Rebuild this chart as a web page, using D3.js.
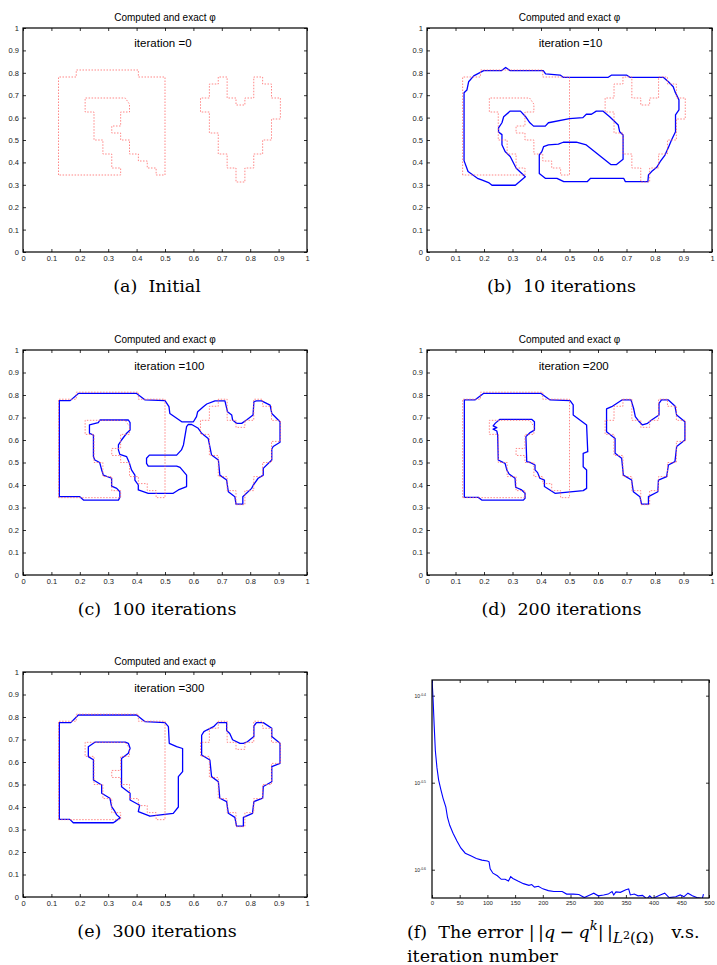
<!DOCTYPE html>
<html>
<head>
<meta charset="utf-8">
<script src="https://cdn.jsdelivr.net/npm/d3@7"></script>
<style>
  body { margin: 0; background: #fff; }
</style>
</head>
<body>
<svg id="fig" width="717" height="965"></svg>
<script>
// ---------- data ----------
// exact shape (red dotted), same in panels a-e
const exactLeft = [[0.125,0.34375],[0.125,0.78125],[0.1875,0.78125],[0.1875,0.8125],[0.40625,0.8125],[0.40625,0.78125],[0.5,0.78125],[0.5,0.34375],[0.46875,0.34375],[0.46875,0.375],[0.4375,0.375],[0.4375,0.40625],[0.40625,0.40625],[0.40625,0.4375],[0.375,0.4375],[0.375,0.5],[0.34375,0.5],[0.34375,0.53125],[0.3125,0.53125],[0.3125,0.5625],[0.34375,0.5625],[0.34375,0.625],[0.375,0.625],[0.375,0.66],[0.36,0.6875],[0.21875,0.6875],[0.21875,0.625],[0.25,0.625],[0.25,0.5],[0.28125,0.5],[0.28125,0.4375],[0.3125,0.4375],[0.3125,0.375],[0.34375,0.375],[0.34375,0.34375]];
const exactHeart = [[0.6875,0.78125],[0.6875,0.75],[0.65625,0.75],[0.65625,0.6875],[0.625,0.6875],[0.625,0.625],[0.65625,0.625],[0.65625,0.53125],[0.6875,0.53125],[0.6875,0.4375],[0.71875,0.4375],[0.71875,0.375],[0.75,0.375],[0.75,0.3125],[0.78125,0.3125],[0.78125,0.375],[0.8125,0.375],[0.8125,0.4375],[0.84375,0.4375],[0.84375,0.5],[0.875,0.5],[0.875,0.59375],[0.90625,0.59375],[0.90625,0.6875],[0.875,0.6875],[0.875,0.75],[0.84375,0.75],[0.84375,0.78125],[0.8125,0.78125],[0.8125,0.6875],[0.78125,0.6875],[0.78125,0.65625],[0.75,0.65625],[0.75,0.6875],[0.71875,0.6875],[0.71875,0.78125]];

// computed contours (blue)
const computed10 = [[0.199,0.810],[0.262,0.810],[0.276,0.824],[0.291,0.810],[0.408,0.810],[0.416,0.795],[0.467,0.790],[0.478,0.780],[0.636,0.780],[0.648,0.790],[0.700,0.790],[0.712,0.780],[0.829,0.780],[0.847,0.760],[0.864,0.738],[0.870,0.716],[0.884,0.679],[0.884,0.634],[0.872,0.612],[0.872,0.537],[0.858,0.500],[0.847,0.467],[0.835,0.433],[0.818,0.403],[0.806,0.378],[0.788,0.359],[0.777,0.344],[0.775,0.314],[0.696,0.314],[0.690,0.329],[0.574,0.329],[0.562,0.314],[0.480,0.314],[0.456,0.329],[0.415,0.329],[0.394,0.350],[0.394,0.433],[0.403,0.448],[0.409,0.470],[0.426,0.478],[0.461,0.482],[0.478,0.490],[0.524,0.490],[0.559,0.478],[0.646,0.390],[0.664,0.390],[0.688,0.414],[0.688,0.522],[0.676,0.537],[0.671,0.567],[0.641,0.604],[0.617,0.629],[0.594,0.629],[0.577,0.615],[0.559,0.615],[0.547,0.600],[0.500,0.595],[0.426,0.577],[0.415,0.562],[0.374,0.562],[0.361,0.577],[0.346,0.604],[0.328,0.629],[0.292,0.629],[0.269,0.604],[0.263,0.577],[0.251,0.554],[0.251,0.536],[0.263,0.524],[0.263,0.479],[0.274,0.449],[0.292,0.426],[0.304,0.396],[0.313,0.374],[0.345,0.336],[0.310,0.298],[0.228,0.298],[0.216,0.310],[0.194,0.321],[0.177,0.329],[0.144,0.359],[0.130,0.408],[0.130,0.711],[0.140,0.723],[0.146,0.760],[0.164,0.786]];

const computed100 = [[0.128,0.775],[0.166,0.775],[0.195,0.807],[0.400,0.807],[0.430,0.778],[0.500,0.775],[0.514,0.748],[0.517,0.718],[0.559,0.681],[0.600,0.681],[0.611,0.704],[0.615,0.726],[0.635,0.748],[0.647,0.760],[0.676,0.774],[0.711,0.774],[0.720,0.726],[0.735,0.711],[0.738,0.689],[0.752,0.674],[0.770,0.674],[0.787,0.689],[0.810,0.711],[0.813,0.770],[0.822,0.774],[0.840,0.774],[0.870,0.755],[0.876,0.718],[0.905,0.681],[0.905,0.590],[0.881,0.571],[0.876,0.560],[0.876,0.511],[0.846,0.474],[0.846,0.444],[0.828,0.430],[0.811,0.400],[0.805,0.385],[0.774,0.348],[0.774,0.315],[0.750,0.315],[0.746,0.348],[0.723,0.370],[0.717,0.422],[0.693,0.444],[0.688,0.511],[0.664,0.533],[0.652,0.607],[0.629,0.630],[0.617,0.652],[0.594,0.669],[0.582,0.669],[0.576,0.659],[0.565,0.578],[0.558,0.556],[0.541,0.533],[0.445,0.533],[0.435,0.519],[0.435,0.496],[0.441,0.484],[0.541,0.484],[0.553,0.478],[0.576,0.444],[0.576,0.393],[0.547,0.378],[0.529,0.363],[0.441,0.363],[0.406,0.378],[0.406,0.400],[0.394,0.422],[0.394,0.444],[0.382,0.467],[0.374,0.500],[0.365,0.526],[0.341,0.536],[0.336,0.556],[0.336,0.578],[0.347,0.600],[0.365,0.630],[0.377,0.644],[0.377,0.677],[0.371,0.689],[0.271,0.689],[0.265,0.677],[0.234,0.667],[0.234,0.630],[0.248,0.622],[0.248,0.526],[0.253,0.511],[0.270,0.500],[0.277,0.467],[0.283,0.444],[0.312,0.430],[0.312,0.395],[0.330,0.385],[0.341,0.370],[0.341,0.345],[0.336,0.333],[0.213,0.333],[0.200,0.348],[0.128,0.348]];

const computed200Left = [[0.131,0.778],[0.168,0.778],[0.198,0.807],[0.400,0.807],[0.432,0.778],[0.502,0.775],[0.513,0.756],[0.513,0.711],[0.560,0.667],[0.564,0.548],[0.548,0.541],[0.548,0.481],[0.560,0.467],[0.560,0.385],[0.548,0.375],[0.449,0.363],[0.412,0.393],[0.412,0.422],[0.396,0.430],[0.388,0.455],[0.379,0.467],[0.379,0.489],[0.362,0.500],[0.350,0.504],[0.347,0.615],[0.362,0.633],[0.377,0.644],[0.377,0.681],[0.367,0.692],[0.256,0.692],[0.240,0.675],[0.232,0.663],[0.245,0.655],[0.232,0.648],[0.245,0.640],[0.248,0.622],[0.250,0.511],[0.274,0.496],[0.280,0.467],[0.288,0.449],[0.309,0.430],[0.311,0.390],[0.332,0.378],[0.344,0.363],[0.344,0.341],[0.338,0.333],[0.192,0.333],[0.180,0.345],[0.131,0.345]];
const computed200Heart = [[0.630,0.738],[0.630,0.637],[0.660,0.607],[0.660,0.541],[0.683,0.519],[0.689,0.444],[0.718,0.422],[0.724,0.370],[0.747,0.348],[0.753,0.315],[0.777,0.315],[0.777,0.348],[0.810,0.370],[0.812,0.422],[0.841,0.437],[0.847,0.489],[0.870,0.504],[0.876,0.571],[0.905,0.600],[0.905,0.681],[0.876,0.711],[0.870,0.751],[0.847,0.778],[0.823,0.778],[0.814,0.763],[0.814,0.711],[0.788,0.689],[0.774,0.674],[0.756,0.667],[0.745,0.681],[0.731,0.704],[0.725,0.740],[0.716,0.778],[0.684,0.778],[0.648,0.748]];

const computed300Left = [[0.128,0.775],[0.168,0.775],[0.195,0.809],[0.400,0.809],[0.430,0.779],[0.500,0.775],[0.512,0.757],[0.515,0.683],[0.541,0.668],[0.562,0.660],[0.562,0.557],[0.547,0.535],[0.547,0.400],[0.529,0.372],[0.447,0.359],[0.406,0.379],[0.411,0.408],[0.377,0.431],[0.377,0.461],[0.347,0.490],[0.347,0.616],[0.371,0.639],[0.377,0.661],[0.371,0.683],[0.360,0.688],[0.253,0.688],[0.230,0.668],[0.230,0.624],[0.248,0.610],[0.248,0.520],[0.277,0.498],[0.277,0.461],[0.306,0.439],[0.312,0.402],[0.324,0.379],[0.330,0.365],[0.342,0.352],[0.324,0.335],[0.318,0.330],[0.177,0.330],[0.165,0.345],[0.128,0.345]];
const computed300Heart = [[0.637,0.735],[0.629,0.719],[0.629,0.631],[0.658,0.609],[0.664,0.535],[0.688,0.512],[0.693,0.439],[0.717,0.424],[0.723,0.372],[0.746,0.354],[0.752,0.315],[0.776,0.315],[0.776,0.354],[0.808,0.372],[0.813,0.424],[0.844,0.439],[0.846,0.491],[0.876,0.512],[0.876,0.579],[0.905,0.594],[0.905,0.683],[0.876,0.713],[0.876,0.750],[0.846,0.775],[0.822,0.775],[0.813,0.760],[0.813,0.713],[0.790,0.690],[0.776,0.683],[0.764,0.683],[0.738,0.699],[0.728,0.727],[0.717,0.740],[0.717,0.775],[0.685,0.775],[0.671,0.757],[0.647,0.742]];

const iterLabels = ["iteration =0", "iteration =10", "iteration =100", "iteration =200", "iteration =300"];
const captionText = ["(a)  Initial", "(b)  10 iterations", "(c)  100 iterations", "(d)  200 iterations", "(e)  300 iterations"];
const unitTicks = [0, 0.1, 0.2, 0.3, 0.4, 0.5, 0.6, 0.7, 0.8, 0.9, 1];
const unitTickLabels = ["0", "0.1", "0.2", "0.3", "0.4", "0.5", "0.6", "0.7", "0.8", "0.9", "1"];

// error history, panel f (log10 of the error)
const errIter = [0,2,4,6,9,12,16,20,25,28,32,38,45,52,60,70,80,90,100,103,105,110,118,125,132,138,142,146,155,165,175,180,185,192,200,210,220,235,243,255,265,275,285,292,300,310,318,325,328,332,340,350,355,358,365,372,380,388,393,398,405,412,420,428,440,448,455,462,470,478,488,490];
const errLog = [-0.380,-0.405,-0.435,-0.463,-0.483,-0.497,-0.508,-0.518,-0.528,-0.540,-0.549,-0.558,-0.567,-0.575,-0.581,-0.584,-0.587,-0.589,-0.590,-0.591,-0.599,-0.604,-0.607,-0.611,-0.611,-0.613,-0.608,-0.610,-0.613,-0.616,-0.618,-0.617,-0.620,-0.619,-0.622,-0.624,-0.625,-0.625,-0.628,-0.628,-0.6285,-0.632,-0.629,-0.627,-0.630,-0.629,-0.628,-0.625,-0.629,-0.6255,-0.626,-0.623,-0.622,-0.629,-0.628,-0.630,-0.6295,-0.6335,-0.630,-0.633,-0.631,-0.629,-0.627,-0.632,-0.631,-0.629,-0.631,-0.627,-0.630,-0.632,-0.633,-0.628];
const errXTicks = [0, 50, 100, 150, 200, 250, 300, 350, 400, 450, 500];
const errYExp = [-0.4, -0.5, -0.6];
const errYExpLabels = ["-0.4", "-0.5", "-0.6"];
const errLogRange = [-0.6325, -0.382];

// ---------- layout ----------
const svg = d3.select("#fig");
const boxes = [
  { l: 23, r: 307, t: 28, b: 252 },
  { l: 427, r: 712, t: 28, b: 252 },
  { l: 23, r: 307, t: 350, b: 575 },
  { l: 427, r: 712, t: 350, b: 575 },
  { l: 23, r: 307, t: 672, b: 897 }
];
const blueLoops = [[], [computed10], [computed100], [computed200Left, computed200Heart], [computed300Left, computed300Heart]];

const sans = "Liberation Sans, Arial, sans-serif";
const serif = "DejaVu Serif, serif";
const capSize = 17.5;

function styleAxis(g, size) {
  g.attr("font-family", sans).attr("font-size", size);
  g.select(".domain").remove();
  g.selectAll(".tick line").attr("stroke", "#000").attr("stroke-width", 0.8);
  g.selectAll(".tick text").attr("fill", "#222");
}

boxes.forEach((bx, i) => {
  const x = d3.scaleLinear().domain([0, 1]).range([bx.l, bx.r]);
  const y = d3.scaleLinear().domain([0, 1]).range([bx.b, bx.t]);
  const g = svg.append("g").attr("class", "panel");

  g.append("g").attr("transform", `translate(0,${bx.b})`)
    .call(d3.axisBottom(x).tickValues(unitTicks).tickFormat((d, k) => unitTickLabels[k])
      .tickSizeInner(-3).tickSizeOuter(0).tickPadding(4))
    .call(a => styleAxis(a, 7.5));
  g.append("g").attr("transform", `translate(${bx.l},0)`)
    .call(d3.axisLeft(y).tickValues(unitTicks).tickFormat((d, k) => unitTickLabels[k])
      .tickSizeInner(-3).tickSizeOuter(0).tickPadding(4))
    .call(a => styleAxis(a, 7.5));
  g.append("g").attr("transform", `translate(0,${bx.t})`)
    .call(d3.axisTop(x).tickValues(unitTicks).tickFormat("").tickSizeInner(-3).tickSizeOuter(0))
    .call(a => styleAxis(a, 7.5));
  g.append("g").attr("transform", `translate(${bx.r},0)`)
    .call(d3.axisRight(y).tickValues(unitTicks).tickFormat("").tickSizeInner(-3).tickSizeOuter(0))
    .call(a => styleAxis(a, 7.5));

  const line = d3.line().x(d => x(d[0])).y(d => y(d[1])).curve(d3.curveLinearClosed);

  g.selectAll("path.computed").data(blueLoops[i]).join("path")
    .attr("class", "computed")
    .attr("d", line)
    .attr("fill", "none")
    .attr("stroke", "#0000ff")
    .attr("stroke-width", 1.3)
    .attr("stroke-linejoin", "round");

  g.selectAll("path.exact").data([exactLeft, exactHeart]).join("path")
    .attr("class", "exact")
    .attr("d", line)
    .attr("fill", "none")
    .attr("stroke", "#ff6a6a")
    .attr("stroke-opacity", 0.8)
    .attr("stroke-width", 1)
    .attr("stroke-dasharray", "1.5,1.5");

  g.append("rect")
    .attr("x", bx.l).attr("y", bx.t)
    .attr("width", bx.r - bx.l).attr("height", bx.b - bx.t)
    .attr("fill", "none").attr("stroke", "#000").attr("stroke-width", 1.2);

  g.append("text")
    .attr("x", (bx.l + bx.r) / 2).attr("y", bx.t - 7.5)
    .attr("text-anchor", "middle")
    .attr("font-family", sans).attr("font-size", 10)
    .text("Computed and exact \u03c6");

  g.append("text")
    .attr("x", x(0.392)).attr("y", y(0.913))
    .attr("font-family", sans).attr("font-size", 11.5)
    .text(iterLabels[i]);

  g.append("text")
    .attr("x", (bx.l + bx.r) / 2 - 8).attr("y", bx.b + 40)
    .attr("text-anchor", "middle")
    .attr("font-family", serif).attr("font-size", capSize)
    .style("white-space", "pre")
    .text(captionText[i]);
});

// ---------- panel f: error history ----------
const fb = { l: 432, r: 709, t: 680, b: 898 };
const fx = d3.scaleLinear().domain([0, 500]).range([fb.l, fb.r]);
const fy = d3.scaleLog().domain(errLogRange.map(e => Math.pow(10, e))).range([fb.b, fb.t]);
const gf = svg.append("g").attr("class", "panel-f");

gf.append("g").attr("transform", `translate(0,${fb.b})`)
  .call(d3.axisBottom(fx).tickValues(errXTicks).tickFormat(d3.format("d"))
    .tickSizeInner(-3).tickSizeOuter(0).tickPadding(3))
  .call(a => styleAxis(a, 6));
gf.append("g").attr("transform", `translate(0,${fb.t})`)
  .call(d3.axisTop(fx).tickValues(errXTicks).tickFormat("").tickSizeInner(-3).tickSizeOuter(0))
  .call(a => styleAxis(a, 6));
const yTickVals = errYExp.map(e => Math.pow(10, e));
gf.append("g").attr("transform", `translate(${fb.l},0)`)
  .call(d3.axisLeft(fy).tickValues(yTickVals).tickFormat("").tickSizeInner(-3).tickSizeOuter(0))
  .call(a => styleAxis(a, 6));
gf.append("g").attr("transform", `translate(${fb.r},0)`)
  .call(d3.axisRight(fy).tickValues(yTickVals).tickFormat("").tickSizeInner(-3).tickSizeOuter(0))
  .call(a => styleAxis(a, 6));

// y tick labels 10^e
yTickVals.forEach((v, k) => {
  const t = gf.append("text")
    .attr("x", fb.l - 6).attr("y", fy(v) + 2)
    .attr("text-anchor", "end")
    .attr("font-family", sans).attr("font-size", 5).attr("fill", "#222");
  t.append("tspan").text("10");
  t.append("tspan").attr("font-size", 3.5).attr("dy", -2).text(errYExpLabels[k]);
});

const errSeries = errIter.map((it, k) => [it, Math.pow(10, errLog[k])]);
gf.append("clipPath").attr("id", "clipf").append("rect")
  .attr("x", fb.l).attr("y", fb.t).attr("width", fb.r - fb.l).attr("height", fb.b - fb.t);
gf.append("path")
  .datum(errSeries)
  .attr("clip-path", "url(#clipf)")
  .attr("d", d3.line().x(d => fx(d[0])).y(d => fy(d[1])))
  .attr("fill", "none")
  .attr("stroke", "#0000ff")
  .attr("stroke-width", 1.1);

gf.append("rect")
  .attr("x", fb.l).attr("y", fb.t)
  .attr("width", fb.r - fb.l).attr("height", fb.b - fb.t)
  .attr("fill", "none").attr("stroke", "#000").attr("stroke-width", 1.2);

// caption f (two lines with math)
const cf = gf.append("text")
  .attr("x", 407).attr("y", 937.5)
  .attr("font-family", serif).attr("font-size", capSize)
  .style("white-space", "pre");
cf.append("tspan").text("(f)  The error |\u2009|");
cf.append("tspan").attr("font-style", "italic").text("q");
cf.append("tspan").text("\u2005\u2212\u2005");
cf.append("tspan").attr("font-style", "italic").text("q");
cf.append("tspan").attr("font-style", "italic").attr("font-size", 13).attr("dy", -8).text("k");
cf.append("tspan").attr("dy", 8).text("|\u2009|");
cf.append("tspan").attr("font-style", "italic").attr("font-size", 15).attr("dy", 5).text("L");
cf.append("tspan").attr("font-size", 11).attr("dy", -4).text("2");
cf.append("tspan").attr("font-size", 15).attr("dy", 4).text("(\u03a9)");
cf.append("tspan").attr("dy", -5).text("\u2003v.s.");

gf.append("text")
  .attr("x", 407).attr("y", 962)
  .attr("font-family", serif).attr("font-size", capSize)
  .text("iteration number");
</script>
</body>
</html>
